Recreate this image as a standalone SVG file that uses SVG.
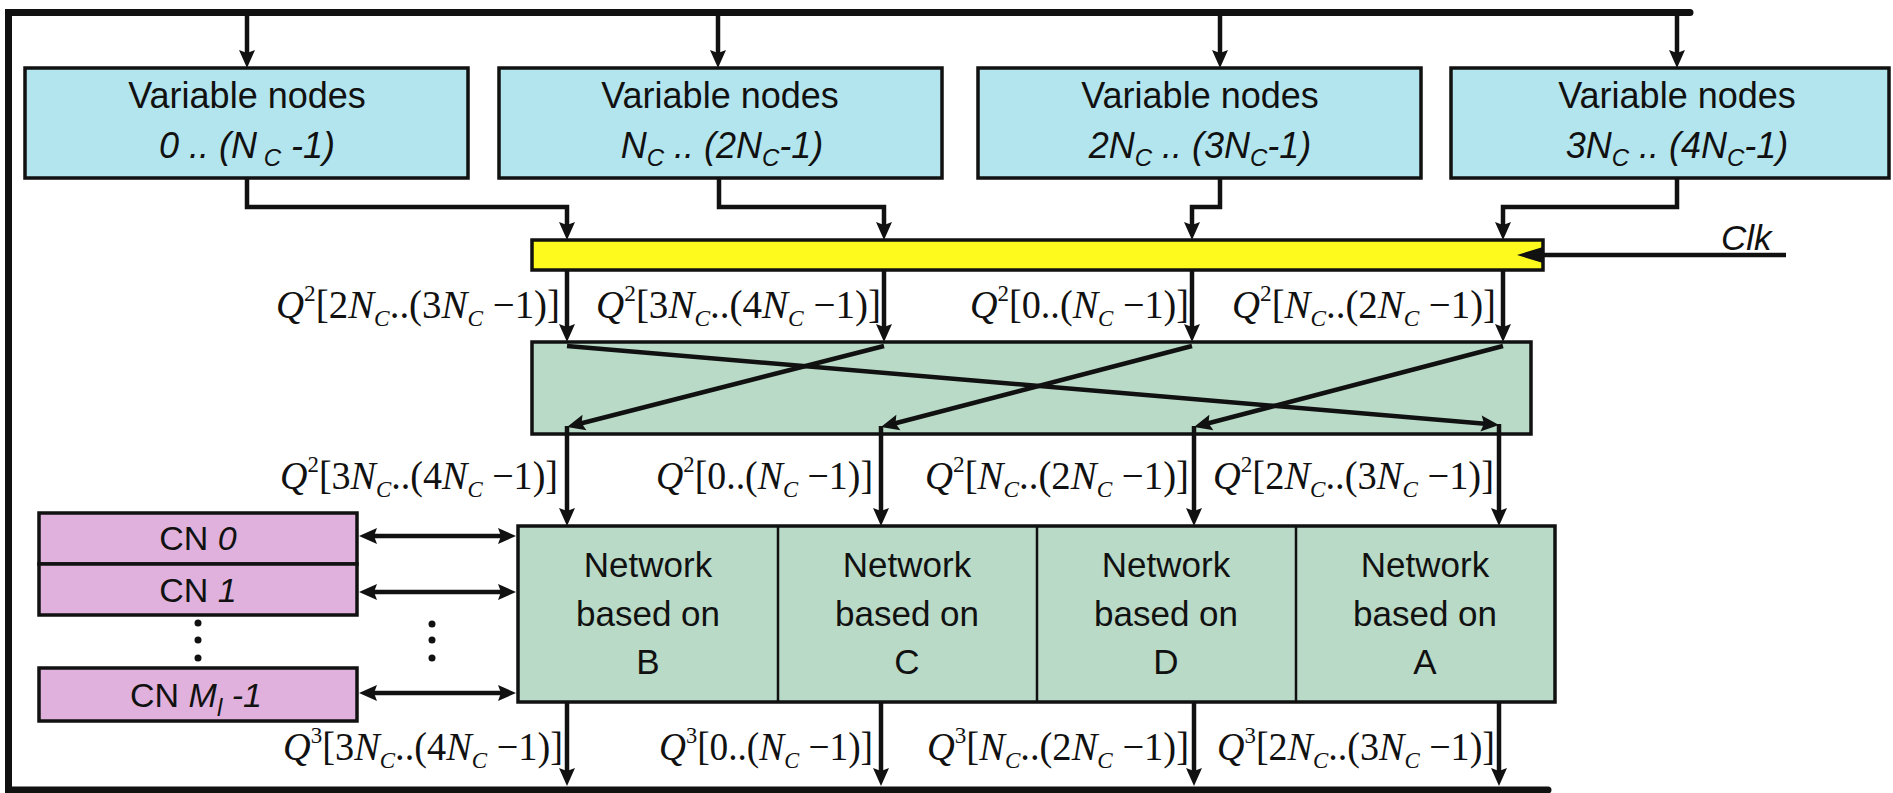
<svg xmlns="http://www.w3.org/2000/svg" width="1893" height="793" viewBox="0 0 1893 793">
<style>
.vn{fill:#B3E5EE;stroke:#111;stroke-width:3.5}
.cn{fill:#E0B1DC;stroke:#111;stroke-width:3.5}
.net{fill:#B8DAC7;stroke:#111;stroke-width:3.5}
.div{stroke:#111;stroke-width:2.5;fill:none}
.yel{fill:#FFFA1E;stroke:#111;stroke-width:3.5}
.t{font-family:"Liberation Sans",Arial,sans-serif;fill:#111}
.vt{font-size:36px}
.nt{font-size:35px}
.ct{font-size:34px}
.m{font-family:"Liberation Serif","Times New Roman",serif;font-size:40px;fill:#111}
.i{font-style:italic}
.sp{font-size:24px}
.sb{font-size:24px;font-style:italic}
.w{stroke:#111;stroke-width:4.5;fill:none}
.bus{stroke:#111;stroke-width:7;fill:none;stroke-linecap:round;stroke-linejoin:miter}
.a{marker-end:url(#ah)}
.d{marker-start:url(#ah);marker-end:url(#ah)}
</style>
<defs>
<marker id="ah" markerUnits="userSpaceOnUse" markerWidth="18" markerHeight="16" refX="10" refY="8" orient="auto-start-reverse" overflow="visible">
<path d="M0,0 L18,8 L0,16 L3,8 z" fill="#111"/>
</marker>
</defs>

<g id="frame">
<path class="bus" d="M1690,12.5 H8.5 V790 H1548"/>
</g>

<g id="vn0">
<rect class="vn" x="25" y="68" width="443" height="110"/>
<text class="t vt" x="247" y="108" text-anchor="middle">Variable nodes</text>
<text class="t vt i" x="247" y="158" text-anchor="middle">0 .. (N<tspan class="sp" dy="8"> C</tspan><tspan dy="-8"> -1)</tspan></text>
</g>
<g id="vn1">
<rect class="vn" x="499" y="68" width="443" height="110"/>
<text class="t vt" x="720" y="108" text-anchor="middle">Variable nodes</text>
<text class="t vt i" x="722" y="158" text-anchor="middle">N<tspan class="sp" dy="8">C</tspan><tspan dy="-8"> .. (2N</tspan><tspan class="sp" dy="8">C</tspan><tspan dy="-8">-1)</tspan></text>
</g>
<g id="vn2">
<rect class="vn" x="978" y="68" width="443" height="110"/>
<text class="t vt" x="1200" y="108" text-anchor="middle">Variable nodes</text>
<text class="t vt i" x="1200" y="158" text-anchor="middle">2N<tspan class="sp" dy="8">C</tspan><tspan dy="-8"> .. (3N</tspan><tspan class="sp" dy="8">C</tspan><tspan dy="-8">-1)</tspan></text>
</g>
<g id="vn3">
<rect class="vn" x="1451" y="68" width="438" height="110"/>
<text class="t vt" x="1677" y="108" text-anchor="middle">Variable nodes</text>
<text class="t vt i" x="1677" y="158" text-anchor="middle">3N<tspan class="sp" dy="8">C</tspan><tspan dy="-8"> .. (4N</tspan><tspan class="sp" dy="8">C</tspan><tspan dy="-8">-1)</tspan></text>
</g>

<g id="register">
<rect class="yel" x="532" y="240" width="1011" height="30"/>
</g>
<g id="clk">
<text class="t i" font-size="35" x="1721" y="250">Clk</text>
</g>

<g id="shuffle">
<rect class="net" x="532" y="342" width="999" height="92"/>
</g>

<g id="network">
<rect class="net" x="518" y="526" width="1037" height="176"/>
<path class="div" d="M778,526 V702 M1037,526 V702 M1296,526 V702"/>
<g id="netB">
<text class="t nt" x="648" y="577" text-anchor="middle">Network</text>
<text class="t nt" x="648" y="626" text-anchor="middle">based on</text>
<text class="t nt" x="648" y="674" text-anchor="middle">B</text>
</g>
<g id="netC">
<text class="t nt" x="907" y="577" text-anchor="middle">Network</text>
<text class="t nt" x="907" y="626" text-anchor="middle">based on</text>
<text class="t nt" x="907" y="674" text-anchor="middle">C</text>
</g>
<g id="netD">
<text class="t nt" x="1166" y="577" text-anchor="middle">Network</text>
<text class="t nt" x="1166" y="626" text-anchor="middle">based on</text>
<text class="t nt" x="1166" y="674" text-anchor="middle">D</text>
</g>
<g id="netA">
<text class="t nt" x="1425" y="577" text-anchor="middle">Network</text>
<text class="t nt" x="1425" y="626" text-anchor="middle">based on</text>
<text class="t nt" x="1425" y="674" text-anchor="middle">A</text>
</g>
</g>

<g id="cn0">
<rect class="cn" x="39" y="513" width="318" height="51"/>
<text class="t ct" x="198" y="550" text-anchor="middle">CN <tspan class="i">0</tspan></text>
</g>
<g id="cn1">
<rect class="cn" x="39" y="564" width="318" height="51"/>
<text class="t ct" x="198" y="602" text-anchor="middle">CN <tspan class="i">1</tspan></text>
</g>
<g id="cnM">
<rect class="cn" x="39" y="668" width="318" height="53"/>
<text class="t ct" x="196" y="707" text-anchor="middle">CN <tspan class="i">M</tspan><tspan class="sb" dy="9">l</tspan><tspan class="i" dy="-9"> -1</tspan></text>
</g>

<g id="dots">
<circle cx="198" cy="623" r="3.5" fill="#111"/>
<circle cx="198" cy="640" r="3.5" fill="#111"/>
<circle cx="198" cy="658" r="3.5" fill="#111"/>
<circle cx="432" cy="624" r="3.5" fill="#111"/>
<circle cx="432" cy="640" r="3.5" fill="#111"/>
<circle cx="432" cy="658" r="3.5" fill="#111"/>
</g>

<g id="connectors">
<path class="w a" d="M247,16 V60"/>
<path class="w a" d="M718,16 V60"/>
<path class="w a" d="M1220,16 V60"/>
<path class="w a" d="M1677,16 V60"/>
<path class="w a" d="M247,178 V207 H567 V232"/>
<path class="w a" d="M719,178 V207 H884 V232"/>
<path class="w a" d="M1220,178 V207 H1192 V232"/>
<path class="w a" d="M1677,178 V207 H1503 V232"/>
<path class="w" d="M1543,255 H1786"/>
<polygon points="1517,255 1543,247 1543,263" fill="#111"/>
<path class="w a" d="M567,270 V334"/>
<path class="w a" d="M884,270 V334"/>
<path class="w a" d="M1192,270 V334"/>
<path class="w a" d="M1503,270 V334"/>
<path class="w a" d="M567,346 L1491,424.3"/>
<path class="w a" d="M884,346 L574.8,425"/>
<path class="w a" d="M1192,346 L888.7,425"/>
<path class="w a" d="M1503,346 L1201.7,425"/>
<path class="w a" d="M567,426 V518"/>
<path class="w a" d="M881,426 V518"/>
<path class="w a" d="M1194,426 V518"/>
<path class="w a" d="M1499,424 V518"/>
<path class="w a" d="M567,702 V778"/>
<path class="w a" d="M881,702 V778"/>
<path class="w a" d="M1194,702 V778"/>
<path class="w a" d="M1499,702 V778"/>
<path class="w d" d="M367,536 H508"/>
<path class="w d" d="M367,592 H508"/>
<path class="w d" d="M367,693 H508"/>
</g>

<g id="labels">
<text class="m" x="276" y="318" textLength="284" lengthAdjust="spacingAndGlyphs"><tspan class="i">Q</tspan><tspan class="sp" dy="-17">2</tspan><tspan dy="17">[2</tspan><tspan class="i">N</tspan><tspan class="sb" dy="8">C</tspan><tspan dy="-8">..(3</tspan><tspan class="i">N</tspan><tspan class="sb" dy="8">C</tspan><tspan dy="-8"> −1)]</tspan></text>
<text class="m" x="596" y="318" textLength="285" lengthAdjust="spacingAndGlyphs"><tspan class="i">Q</tspan><tspan class="sp" dy="-17">2</tspan><tspan dy="17">[3</tspan><tspan class="i">N</tspan><tspan class="sb" dy="8">C</tspan><tspan dy="-8">..(4</tspan><tspan class="i">N</tspan><tspan class="sb" dy="8">C</tspan><tspan dy="-8"> −1)]</tspan></text>
<text class="m" x="970" y="318" textLength="219" lengthAdjust="spacingAndGlyphs"><tspan class="i">Q</tspan><tspan class="sp" dy="-17">2</tspan><tspan dy="17">[0..(</tspan><tspan class="i">N</tspan><tspan class="sb" dy="8">C</tspan><tspan dy="-8"> −1)]</tspan></text>
<text class="m" x="1232" y="318" textLength="264" lengthAdjust="spacingAndGlyphs"><tspan class="i">Q</tspan><tspan class="sp" dy="-17">2</tspan><tspan dy="17">[</tspan><tspan class="i">N</tspan><tspan class="sb" dy="8">C</tspan><tspan dy="-8">..(2</tspan><tspan class="i">N</tspan><tspan class="sb" dy="8">C</tspan><tspan dy="-8"> −1)]</tspan></text>

<text class="m" x="280" y="489" textLength="278" lengthAdjust="spacingAndGlyphs"><tspan class="i">Q</tspan><tspan class="sp" dy="-17">2</tspan><tspan dy="17">[3</tspan><tspan class="i">N</tspan><tspan class="sb" dy="8">C</tspan><tspan dy="-8">..(4</tspan><tspan class="i">N</tspan><tspan class="sb" dy="8">C</tspan><tspan dy="-8"> −1)]</tspan></text>
<text class="m" x="656" y="489" textLength="217" lengthAdjust="spacingAndGlyphs"><tspan class="i">Q</tspan><tspan class="sp" dy="-17">2</tspan><tspan dy="17">[0..(</tspan><tspan class="i">N</tspan><tspan class="sb" dy="8">C</tspan><tspan dy="-8"> −1)]</tspan></text>
<text class="m" x="925" y="489" textLength="264" lengthAdjust="spacingAndGlyphs"><tspan class="i">Q</tspan><tspan class="sp" dy="-17">2</tspan><tspan dy="17">[</tspan><tspan class="i">N</tspan><tspan class="sb" dy="8">C</tspan><tspan dy="-8">..(2</tspan><tspan class="i">N</tspan><tspan class="sb" dy="8">C</tspan><tspan dy="-8"> −1)]</tspan></text>
<text class="m" x="1213" y="489" textLength="281" lengthAdjust="spacingAndGlyphs"><tspan class="i">Q</tspan><tspan class="sp" dy="-17">2</tspan><tspan dy="17">[2</tspan><tspan class="i">N</tspan><tspan class="sb" dy="8">C</tspan><tspan dy="-8">..(3</tspan><tspan class="i">N</tspan><tspan class="sb" dy="8">C</tspan><tspan dy="-8"> −1)]</tspan></text>

<text class="m" x="283" y="760" textLength="280" lengthAdjust="spacingAndGlyphs"><tspan class="i">Q</tspan><tspan class="sp" dy="-17">3</tspan><tspan dy="17">[3</tspan><tspan class="i">N</tspan><tspan class="sb" dy="8">C</tspan><tspan dy="-8">..(4</tspan><tspan class="i">N</tspan><tspan class="sb" dy="8">C</tspan><tspan dy="-8"> −1)]</tspan></text>
<text class="m" x="659" y="760" textLength="214" lengthAdjust="spacingAndGlyphs"><tspan class="i">Q</tspan><tspan class="sp" dy="-17">3</tspan><tspan dy="17">[0..(</tspan><tspan class="i">N</tspan><tspan class="sb" dy="8">C</tspan><tspan dy="-8"> −1)]</tspan></text>
<text class="m" x="927" y="760" textLength="262" lengthAdjust="spacingAndGlyphs"><tspan class="i">Q</tspan><tspan class="sp" dy="-17">3</tspan><tspan dy="17">[</tspan><tspan class="i">N</tspan><tspan class="sb" dy="8">C</tspan><tspan dy="-8">..(2</tspan><tspan class="i">N</tspan><tspan class="sb" dy="8">C</tspan><tspan dy="-8"> −1)]</tspan></text>
<text class="m" x="1217" y="760" textLength="278" lengthAdjust="spacingAndGlyphs"><tspan class="i">Q</tspan><tspan class="sp" dy="-17">3</tspan><tspan dy="17">[2</tspan><tspan class="i">N</tspan><tspan class="sb" dy="8">C</tspan><tspan dy="-8">..(3</tspan><tspan class="i">N</tspan><tspan class="sb" dy="8">C</tspan><tspan dy="-8"> −1)]</tspan></text>
</g>
</svg>
